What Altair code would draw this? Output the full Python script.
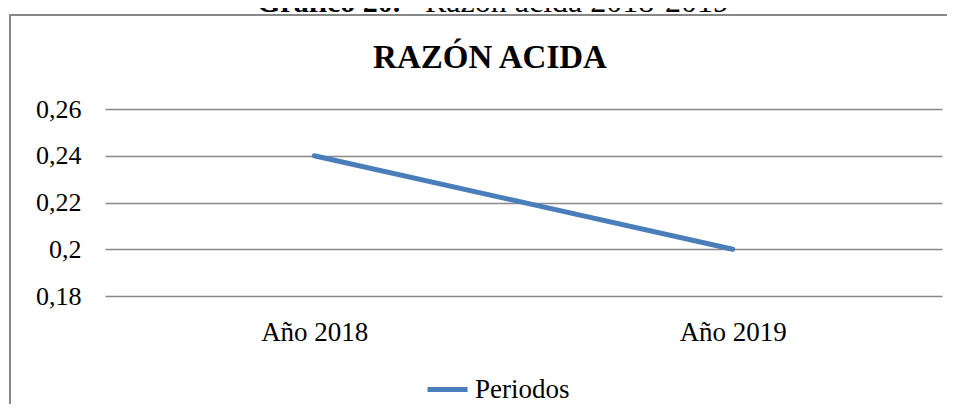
import altair as alt
import pandas as pd

# ---- data ----
periodos = ["Año 2018", "Año 2019"]
razon_acida = [0.24, 0.20]
serie = ["Periodos", "Periodos"]
y_ticks = [0.18, 0.20, 0.22, 0.24, 0.26]

titulo_grafico = "RAZÓN ACIDA"
encabezado_negrita = "Gráfico 20.-"
encabezado_normal = "Razón acida 2018-2019"

df = pd.DataFrame({"periodo": periodos, "valor": razon_acida, "serie": serie})
one = pd.DataFrame({"k": [0]})

FONT = "Liberation Serif"
W, H = 837, 187
LINE_COLOR = "#4A7EBB"
GRID = "#898989"

line = alt.Chart(df).mark_line(strokeWidth=5, strokeCap="round").encode(
    x=alt.X(
        "periodo:N", sort=periodos,
        scale=alt.Scale(type="point", padding=0.5),
        axis=alt.Axis(title=None, labelAngle=0, ticks=False, tickSize=0, domain=False,
                      grid=False, labelFont=FONT, labelFontSize=27, labelColor="black",
                      labelPadding=23),
    ),
    y=alt.Y(
        "valor:Q",
        scale=alt.Scale(domain=[0.18, 0.26], nice=False, zero=False),
        axis=alt.Axis(title=None, values=y_ticks, ticks=False, tickSize=0, domain=False,
                      grid=True, gridColor=GRID, gridWidth=1.5, labelFont=FONT,
                      labelFontSize=26, labelColor="black", labelPadding=24,
                      labelExpr="replace(format(datum.value, '.2~f'), '.', ',')"),
    ),
    color=alt.Color(
        "serie:N",
        scale=alt.Scale(domain=["Periodos"], range=[LINE_COLOR]),
        legend=alt.Legend(title=None, orient="none", legendX=320, legendY=258,
                          symbolType="stroke", symbolSize=1600, symbolStrokeWidth=5,
                          labelFont=FONT, labelFontSize=27, labelColor="black",
                          labelOffset=5, padding=0),
    ),
)

frame_top = alt.Chart(one).mark_rule(stroke="#888888", strokeWidth=2).encode(
    x=alt.value(-96), x2=alt.value(842), y=alt.value(-94)
)
frame_left = alt.Chart(one).mark_rule(stroke="#888888", strokeWidth=2).encode(
    x=alt.value(-95), y=alt.value(-95), y2=alt.value(305)
)

title = alt.Chart(one).mark_text(
    font=FONT, fontSize=33, fontWeight="bold", align="center", baseline="alphabetic", color="black"
).encode(x=alt.value(385), y=alt.value(-41), text=alt.value(titulo_grafico))

head1 = alt.Chart(one).mark_text(
    font=FONT, fontSize=30, fontWeight="bold", align="left", baseline="alphabetic", color="black"
).encode(x=alt.value(152), y=alt.value(-97), text=alt.value(encabezado_negrita))

head2 = alt.Chart(one).mark_text(
    font=FONT, fontSize=32, align="left", baseline="alphabetic", color="black"
).encode(x=alt.value(320), y=alt.value(-97), text=alt.value(encabezado_normal))

chart = alt.layer(frame_top, frame_left, line, title, head1, head2).properties(
    width=W, height=H,
    autosize=alt.AutoSizeParams(type="none"),
    padding={"left": 97, "top": 101, "right": 5, "bottom": 108},
    background="white",
).configure_view(stroke=None)

chart.save("out.html", embed_options={"renderer": "svg", "actions": False})
